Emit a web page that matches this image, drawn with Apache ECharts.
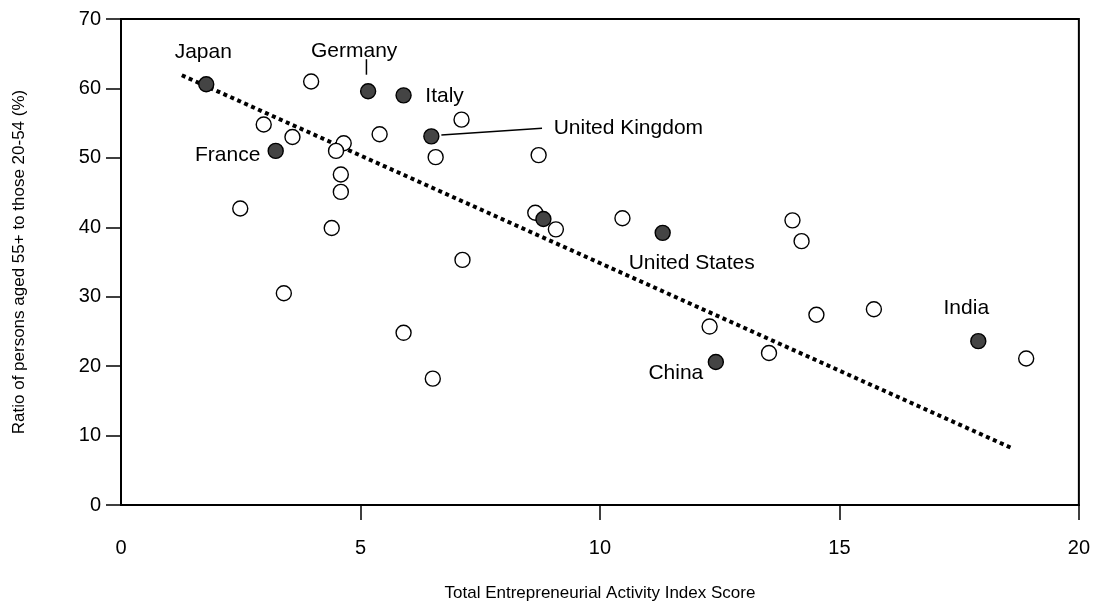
<!DOCTYPE html>
<html>
<head>
<meta charset="utf-8">
<script src="https://cdn.jsdelivr.net/npm/echarts@6/dist/echarts.min.js"></script>
<style>
  html, body { margin: 0; padding: 0; background: #fff; }
  #chart { width: 1093px; height: 607px; }
</style>
</head>
<body>
<div id="chart"></div>
<script>
// Total Entrepreneurial Activity index (x) vs. ratio of people aged 55+ to those aged 20-54 (y)

// Highlighted countries (filled markers)
const highlightNames = ['Japan', 'Germany', 'Italy', 'France', 'United Kingdom', '', 'United States', 'China', 'India'];
const highlightTEA   = [1.78, 5.16, 5.90, 3.23, 6.48, 8.82, 11.31, 12.42, 17.90];
const highlightRatio = [60.6, 59.6, 59.0, 51.0, 53.1, 41.2, 39.2, 20.6, 23.6];

// Other countries (open markers)
const otherTEA   = [3.97, 2.98, 3.58, 4.65, 4.49, 5.40, 6.57, 4.59, 4.59, 2.49, 4.40, 3.40, 5.90, 6.51,
                    7.11, 8.72, 8.65, 9.08, 7.13, 10.47, 12.29, 13.53, 14.02, 14.21, 14.52, 15.72, 18.90];
const otherRatio = [61.0, 54.8, 53.0, 52.1, 51.0, 53.4, 50.1, 47.6, 45.1, 42.7, 39.9, 30.5, 24.8, 18.2,
                    55.5, 50.4, 42.1, 39.7, 35.3, 41.3, 25.7, 21.9, 41.0, 38.0, 27.4, 28.2, 21.1];

// Fitted trend line end points
const trendTEA   = [1.27, 18.63];
const trendRatio = [61.9, 8.1];

// Axis ticks
const xTicks = [0, 5, 10, 15, 20];
const yTicks = [0, 10, 20, 30, 40, 50, 60, 70];

// Label placement (pixel offset of text centre from marker centre)
const labelOffsets = {
  'Japan':          [-3, -32],
  'Germany':        [-14, -40],
  'Italy':          [41, 1],
  'France':         [-48, 4],
  'United Kingdom': [197, -8],
  'United States':  [29, 30],
  'China':          [-40, 11],
  'India':          [-12, -33]
};
// Leader lines (pixel offsets from marker centre)
const leaders = {
  'Germany':        [[-1.7, -32], [-1.7, -16.5]],
  'United Kingdom': [[10, -1.3], [110.7, -8]]
};

const FONT = 'Liberation Sans, Arial, sans-serif';

const highlightData = highlightNames.map((n, i) => ({
  name: n,
  value: [highlightTEA[i], highlightRatio[i]],
  label: n ? { show: true, position: 'inside', offset: labelOffsets[n], formatter: n } : { show: false }
}));
const otherData = otherTEA.map((x, i) => [x, otherRatio[i]]);
const trendData = trendTEA.map((x, i) => [x, trendRatio[i]]);
const leaderData = highlightNames
  .map((n, i) => ({ name: n, value: [highlightTEA[i], highlightRatio[i]] }))
  .filter(d => leaders[d.name]);

const chart = echarts.init(document.getElementById('chart'), null, { renderer: 'canvas' });

chart.setOption({
  animation: false,
  backgroundColor: '#fff',
  textStyle: { fontFamily: FONT, color: '#000' },
  grid: {
    left: 121, top: 19, width: 961, height: 489,
    show: true, borderColor: '#000', borderWidth: 2, backgroundColor: 'transparent'
  },
  xAxis: {
    type: 'value', min: xTicks[0], max: xTicks[xTicks.length - 1], interval: 5,
    name: 'Total Entrepreneurial Activity Index Score',
    nameLocation: 'middle', nameGap: 80,
    nameTextStyle: { fontFamily: FONT, fontSize: 17, color: '#000' },
    axisLine: { show: true, onZero: false, lineStyle: { color: '#000', width: 2 } },
    axisTick: { show: true, inside: false, length: 15, customValues: xTicks.slice(1), lineStyle: { color: '#000', width: 1.5 } },
    axisLabel: { fontFamily: FONT, fontSize: 20, color: '#000', margin: 33, customValues: xTicks, showMinLabel: true, showMaxLabel: true },
    splitLine: { show: false }
  },
  yAxis: {
    type: 'value', min: yTicks[0], max: yTicks[yTicks.length - 1], interval: 10,
    name: 'Ratio of persons aged 55+ to those 20-54 (%)',
    nameLocation: 'middle', nameGap: 93,
    nameTextStyle: { fontFamily: FONT, fontSize: 17, color: '#000' },
    axisLine: { show: true, onZero: false, lineStyle: { color: '#000', width: 2 } },
    axisTick: { show: true, inside: false, length: 15, lineStyle: { color: '#000', width: 1.5 } },
    axisLabel: { fontFamily: FONT, fontSize: 20, color: '#000', margin: 20, showMinLabel: true, showMaxLabel: true },
    splitLine: { show: false }
  },
  series: [
    {
      type: 'line',
      data: trendData,
      symbol: 'none',
      z: 2,
      lineStyle: { color: '#000', width: 4, type: [4, 3.6], cap: 'butt' }
    },
    {
      type: 'custom',
      data: leaderData,
      z: 3,
      renderItem: function (params, api) {
        const p = api.coord([api.value(0), api.value(1)]);
        const seg = leaders[leaderData[params.dataIndex].name];
        return {
          type: 'line',
          shape: { x1: p[0] + seg[0][0], y1: p[1] + seg[0][1], x2: p[0] + seg[1][0], y2: p[1] + seg[1][1] },
          style: { stroke: '#000', lineWidth: 1.5 }
        };
      }
    },
    {
      type: 'scatter',
      data: otherData,
      symbol: 'circle',
      symbolSize: 15,
      z: 4,
      itemStyle: { color: '#fff', borderColor: '#000', borderWidth: 1.4, opacity: 1 }
    },
    {
      type: 'scatter',
      data: highlightData,
      symbol: 'circle',
      symbolSize: 15,
      z: 5,
      itemStyle: { color: '#444', borderColor: '#000', borderWidth: 1.4, opacity: 1 },
      label: { fontFamily: FONT, fontSize: 21, color: '#000' },
      emphasis: { disabled: true }
    }
  ]
});
</script>
</body>
</html>
